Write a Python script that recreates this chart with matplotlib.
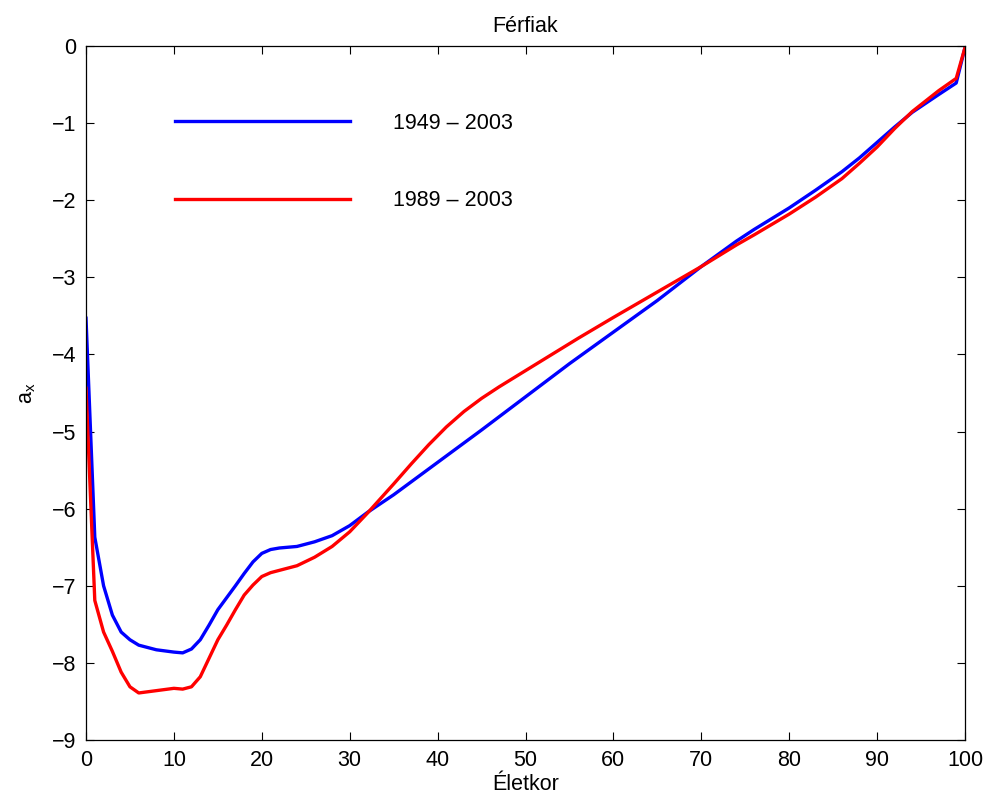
import matplotlib
matplotlib.use("Agg")
import matplotlib.pyplot as plt

plt.rcParams["font.family"] = ["Liberation Sans", "DejaVu Sans"]
plt.rcParams["mathtext.default"] = "regular"

# ages and a_x values
ages_1949 = [0, 1, 2, 3, 4, 5, 6, 8, 10, 11, 12, 13, 14, 15, 17, 18, 19, 20, 21,
             22, 24, 26, 28, 30, 32, 35, 40, 45, 50, 55, 60, 65, 70, 74, 76,
             78, 80, 83, 86, 88, 90, 92, 94, 97, 99, 100]
ax_1949 = [-3.53, -6.37, -7.0, -7.38, -7.6, -7.7, -7.77, -7.83, -7.86, -7.87, -7.82,
           -7.70, -7.51, -7.31, -7.0, -6.84, -6.69, -6.58, -6.53,
           -6.51, -6.49, -6.43, -6.35, -6.22, -6.05, -5.82, -5.40, -4.98, -4.55,
           -4.12, -3.71, -3.30, -2.86, -2.53, -2.38, -2.24, -2.10, -1.87, -1.63,
           -1.45, -1.25, -1.05, -0.86, -0.63, -0.48, -0.02]

ages_1989 = [0, 1, 2, 3, 4, 5, 6, 8, 10, 11, 12, 13, 14, 15, 16, 17, 18, 19, 20, 21,
             22, 24, 26, 28, 30, 32, 35, 37, 39, 41, 43, 45, 47, 50, 53, 56, 60,
             65, 70, 74, 76, 80, 83, 86, 88, 90, 92, 94, 97, 99, 100]
ax_1989 = [-4.44, -7.19, -7.6, -7.85, -8.12, -8.31, -8.39, -8.36, -8.33, -8.34, -8.31,
           -8.18, -7.94, -7.70, -7.51, -7.31, -7.12, -6.99, -6.88, -6.83,
           -6.80, -6.74, -6.63, -6.49, -6.30, -6.06, -5.68, -5.42, -5.17, -4.94,
           -4.74, -4.57, -4.42, -4.21, -4.00, -3.79, -3.52,
           -3.19, -2.86, -2.58, -2.45, -2.18, -1.96, -1.72, -1.52, -1.31, -1.07,
           -0.85, -0.58, -0.42, -0.02]

labels = ["1949 \u2013 2003", "1989 \u2013 2003"]

fs = 15.5

fig = plt.figure(figsize=(9.91, 8.02), dpi=100)
ax = fig.add_axes([86 / 991, 1 - 740 / 802, (965 - 86) / 991, (740 - 46) / 802])

ax.plot(ages_1949, ax_1949, color=(0, 0, 1), lw=2.4, label=labels[0])
ax.plot(ages_1989, ax_1989, color=(1, 0, 0), lw=2.4, label=labels[1])

ax.set_xlim(0, 100)
ax.set_ylim(-9, 0)
ax.set_xticks(range(0, 101, 10))
ax.set_yticks(range(-9, 1))
ax.tick_params(direction="in", top=True, right=True, length=5.5, labelsize=fs, pad=7)
for s in ax.spines.values():
    s.set_linewidth(0.9)

ax.set_title("Férfiak", fontsize=fs, pad=10)
ax.set_xlabel("Életkor", fontsize=fs, labelpad=2)
ax.set_ylabel("$a_x$", fontsize=fs, labelpad=10)

ax.legend(loc="upper left", bbox_to_anchor=(175 / 991, 1 - 113 / 802),
          bbox_transform=fig.transFigure, frameon=False, fontsize=fs,
          handlelength=8.13, handletextpad=2.0, labelspacing=2.62,
          borderpad=0, borderaxespad=0)

fig.savefig("out.png", dpi=100)
